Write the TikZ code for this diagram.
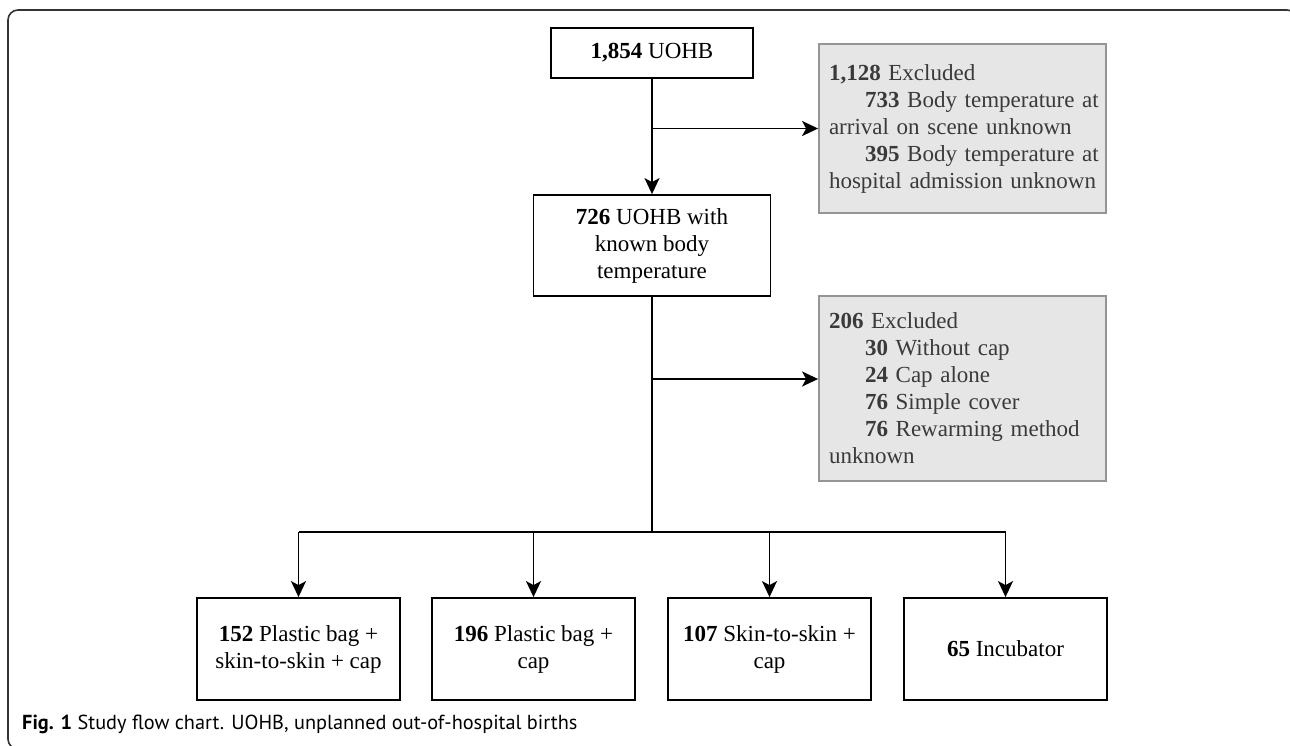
\documentclass[tikz,border=0pt]{standalone}
\usepackage{fontspec}
\setmainfont{Liberation Serif}
\newfontfamily\captfont{PT Sans}
\usetikzlibrary{arrows.meta}
\definecolor{gfill}{HTML}{E6E6E6}
\definecolor{gline}{HTML}{959595}
\definecolor{gtext}{HTML}{3A3A3A}
\definecolor{frame}{HTML}{333333}
\tikzset{
  boxfont/.style={font=\fontsize{23}{27}\selectfont},
  wbox/.style={boxfont, draw=black, line width=1.8pt, align=center, inner sep=0pt, text=black},
  gbox/.style={boxfont, draw=gline, fill=gfill, line width=1.8pt, align=left, inner xsep=10pt, inner ysep=0pt, text=gtext, text width=267pt},
  conn/.style={line width=1.8pt, draw=black},
  arr/.style={conn, -{Stealth[length=16pt,width=15pt,inset=4pt]}},
}
\newcommand{\ind}{\hspace*{36pt}}
\newcommand{\oneline}[1]{\mbox{#1}}
\begin{document}
\begin{tikzpicture}[x=1pt,y=-1pt]
\useasboundingbox (0,0) rectangle (1290,745);
\begin{scope}
  \clip (0,0) rectangle (1290,745);
  \draw[line width=1.6pt, draw=frame, rounded corners=10pt] (1297,40) -- (1297,10) -- (8,10) -- (8,749) -- (40,749);
\end{scope}

\node[wbox, minimum width=202pt, minimum height=50pt] (b1) at (652,53) {\textbf{1,854} UOHB};
\node[wbox, minimum width=237pt, minimum height=101pt] (b2) at (652,245.5) {\textbf{726} UOHB with\\known body\\temperature};

\node[gbox, minimum height=169pt] (g1) at (962.5,128.5)
  {\oneline{\textbf{1,128} Excluded}\\
   \oneline{\ind\textbf{733} Body temperature at}\\
   \oneline{arrival on scene unknown}\\
   \oneline{\ind\textbf{395} Body temperature at}\\
   \oneline{hospital admission unknown}};
\node[gbox, minimum height=185pt] (g2) at (962.5,388.5)
  {\oneline{\textbf{206} Excluded}\\
   \oneline{\ind\textbf{30} Without cap}\\
   \oneline{\ind\textbf{24} Cap alone}\\
   \oneline{\ind\textbf{76} Simple cover}\\
   \oneline{\ind\textbf{76} Rewarming method}\\
   \oneline{unknown}};

\node[wbox, minimum width=203pt, minimum height=102pt] (c1) at (298.5,649) {\textbf{152} Plastic bag +\\skin-to-skin + cap};
\node[wbox, minimum width=203pt, minimum height=102pt] (c2) at (533.5,649) {\textbf{196} Plastic bag +\\cap};
\node[wbox, minimum width=203pt, minimum height=102pt] (c3) at (769.5,649) {\textbf{107} Skin-to-skin +\\cap};
\node[wbox, minimum width=203pt, minimum height=102pt] (c4) at (1005.5,649) {\textbf{65} Incubator};

\coordinate (j2) at (652,379);
\coordinate (split) at (652,532);

\draw[arr] (b1.south) -- (b2.north);
\draw[arr] (b1.south |- g1.west) -- (g1.west);
\draw[conn] (b2.south) -- (split);
\draw[arr] (j2) -- (j2 -| g2.west);
\draw[conn] (split -| c1.north) -- (split -| c4.north);
\draw[arr] (split -| c1.north) -- (c1.north);
\draw[arr] (split -| c2.north) -- (c2.north);
\draw[arr] (split -| c3.north) -- (c3.north);
\draw[arr] (split -| c4.north) -- (c4.north);

\node[anchor=west, inner sep=0pt, font=\captfont\fontsize{20.3}{24}\selectfont, text=black] (cap) at (22,724)
  {\textbf{Fig. 1} Study flow chart. UOHB, unplanned out-of-hospital births};
\end{tikzpicture}
\end{document}
